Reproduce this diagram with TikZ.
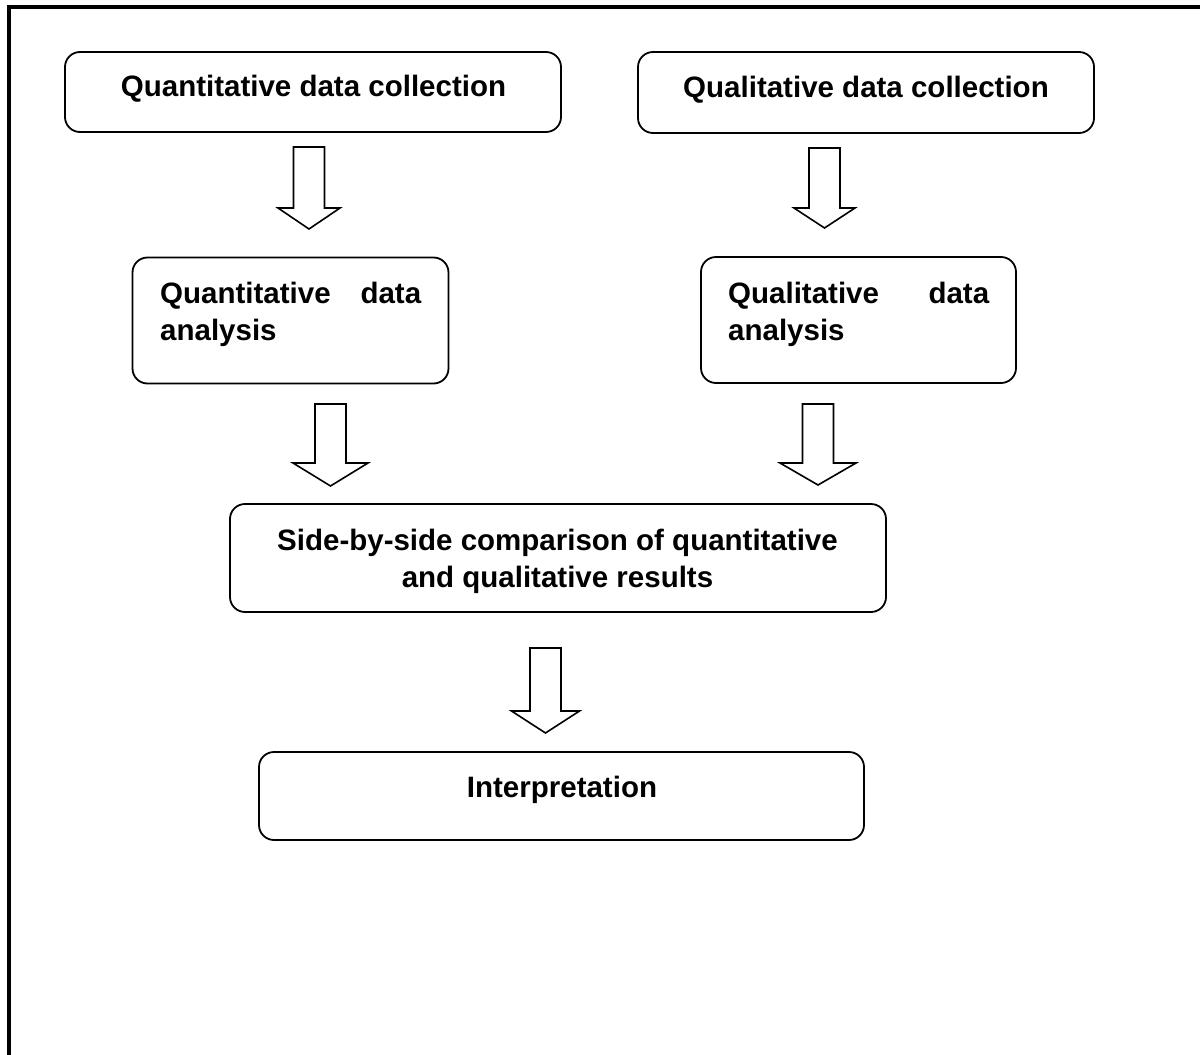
\documentclass[tikz,border=0pt]{standalone}
\usepackage{fontspec}
\setmainfont{Liberation Sans}
\hyphenpenalty=10000
\exhyphenpenalty=10000
\begin{document}
\begin{tikzpicture}[x=1pt,y=-1pt,
  box/.style={draw=black, line width=1.8pt, rounded corners=15pt, inner sep=0pt},
  txt/.style={inner sep=0pt, font=\bfseries\fontsize{29.5}{37}\selectfont},
  arr/.style={draw=black, line width=1.6pt, fill=white, line join=miter}]
\useasboundingbox (0,0) rectangle (1200,1055);
% frame
\draw[line width=4pt] (1200,7) -- (8.7,7) -- (8.7,1055);
% boxes
\node[box, minimum width=496pt, minimum height=80pt] (qncol) at (313,92) {};
\node[box, minimum width=456pt, minimum height=81pt] (qlcol) at (866,92.5) {};
\node[box, minimum width=316pt, minimum height=126pt] (qnan) at (290.5,320.5) {};
\node[box, minimum width=315pt, minimum height=126pt] (qlan) at (858.5,320) {};
\node[box, minimum width=656pt, minimum height=108pt] (cmp) at (558,558) {};
\node[box, minimum width=605pt, minimum height=88pt] (intp) at (561.5,796) {};
% texts
\node[txt, anchor=base] (t1) at (313.5,96) {Quantitative data collection};
\node[txt, anchor=base] (t2) at (866,97) {Qualitative data collection};
\node[txt, text width=261pt, align=justify, anchor=base west] (t3) at (160,303) {Quantitative data analysis};
\node[txt, text width=261pt, align=justify, anchor=base west] (t4) at (728,303) {Qualitative data analysis};
\node[txt, align=center, anchor=base] (t5) at (557.5,587) {Side-by-side comparison of quantitative\\and qualitative results};
\node[txt, anchor=base] (t6) at (562,797) {Interpretation};
% block arrows: centre x, top, head base, tip, shaft half, head half
\newcommand\blockarrow[6]{%
  \draw[arr] (#1-#5,#2) -- (#1+#5,#2) -- (#1+#5,#3) -- (#1+#6,#3) -- (#1,#4) -- (#1-#6,#3) -- (#1-#5,#3) -- cycle;}
\blockarrow{309}{147}{208}{229}{15.5}{31}
\blockarrow{824.5}{148}{208}{228}{15.5}{30.5}
\blockarrow{330.5}{404}{463}{486}{15.5}{37.5}
\blockarrow{818}{404}{463}{485}{15.5}{38}
\blockarrow{545.5}{648}{711}{733}{15.5}{34}
\end{tikzpicture}
\end{document}
